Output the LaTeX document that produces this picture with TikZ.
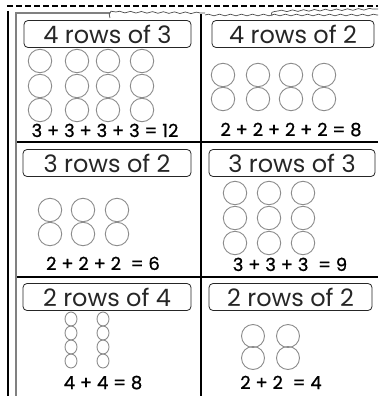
\documentclass[tikz,border=0pt]{standalone}
\usepackage{fontspec}
\setmainfont{Poppins}
\newfontfamily\eqfont{Poppins}[FakeBold=0.8]
\usetikzlibrary{decorations.pathmorphing}
\begin{document}
\begin{tikzpicture}[x=1pt,y=-1pt,
  titlebox/.style={draw=black!85, line width=0.8pt, rounded corners=4pt,
    minimum height=27pt, inner sep=0pt,
    font=\fontsize{24}{27}\selectfont, text=black!85},
  eqn/.style={anchor=base, inner sep=0pt, font=\eqfont\fontsize{18}{20}\selectfont},
  bub/.style={draw=black!45, line width=0.9pt},
  divider/.style={line width=1.3pt, black},
  torn/.style={draw=black!70, line width=0.7pt,
    decorate, decoration={snake, amplitude=0.8pt, segment length=11pt}}]
\path[use as bounding box, fill=white] (0,0) rectangle (378,396);

% top dashed cut line
\draw[line width=1.2pt, dash pattern=on 6pt off 3pt] (7,6) -- (378,6);

% left margin lines
\draw[line width=1.2pt] (8,11) -- (8,396);
\draw[black!50, line width=2.2pt] (16,12) -- (16,396);
\draw[black!50, line width=1.2pt] (15,13) -- (110,13);

% torn paper edges at top
\draw[torn] (110,18) .. controls (110,13) .. (116,12);
\draw[torn] (116,12) -- (205,13);
\draw[torn] (205,15) -- (378,15);
\draw[draw=black!70, line width=0.7pt] (272,16) .. controls (271,12) .. (278,11);
\draw[torn] (278,11) -- (378,9);

% grid dividers
\draw[divider] (201,14) -- (201,396);
\draw[divider] (17,142) -- (378,142);
\draw[divider] (17,277) -- (378,277);

% titles
\node[titlebox, minimum width=167pt] (t1) at (107.5,34) {4 rows of 3};
\node[titlebox, minimum width=162pt] (t2) at (293,34) {4 rows of 2};
\node[titlebox, minimum width=168pt] (t3) at (107,163) {3 rows of 2};
\node[titlebox, minimum width=166pt] (t4) at (292,163) {3 rows of 3};
\node[titlebox, minimum width=168pt] (t5) at (107,297) {2 rows of 4};
\node[titlebox, minimum width=163pt] (t6) at (290.5,297) {2 rows of 2};

% circles
\foreach \x in {40,77,108,142} \foreach \y in {61,86,110}
  \draw[bub] (\x,\y) circle[radius=11.7];
\foreach \x in {223,258,291,324} \foreach \y in {75,99}
  \draw[bub] (\x,\y) circle[radius=11.7];
\foreach \x in {50,83,117} \foreach \y in {210,234}
  \draw[bub] (\x,\y) circle[radius=11.7];
\foreach \x in {235,269,303} \foreach \y in {193,218,243}
  \draw[bub] (\x,\y) circle[radius=11.7];
\foreach \x in {71,103} \foreach \y in {319,333,347,361}
  \draw[bub] (\x,\y) ellipse[x radius=6, y radius=7];
\foreach \x in {253,288} \foreach \y in {336,358}
  \draw[bub] (\x,\y) circle[radius=11.5];

% equations
\node[eqn] (e1) at (105,137) {3 + 3 + 3 + 3 = 12};
\node[eqn] (e2) at (291,136) {2 + 2 + 2 + 2 = 8};
\node[eqn] (e3) at (103,270) {2 + 2 + 2 \ = 6};
\node[eqn] (e4) at (290,271) {3 + 3 + 3 \ = 9};
\node[eqn] (e5) at (103,389) {4 + 4 = 8};
\node[eqn] (e6) at (281,389) {2 + 2 \ = 4};
\end{tikzpicture}
\end{document}
